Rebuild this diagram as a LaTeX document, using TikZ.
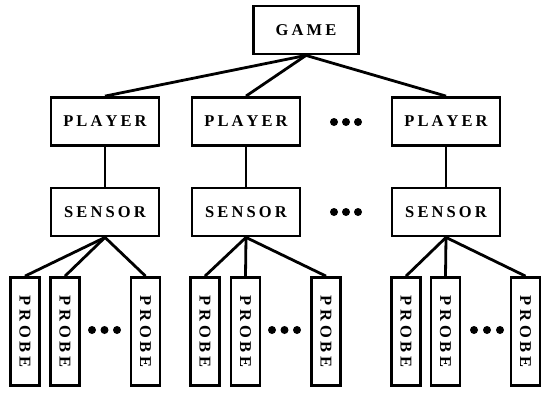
\documentclass[tikz,border=0pt]{standalone}
\usepackage{fontspec}
\usepackage{graphicx}
\newfontfamily\lblfont{Liberation Serif}
\newcommand\ls{\kern3.1pt}
\begin{document}
\begin{tikzpicture}[x=1pt,y=-1pt,
 box/.style={draw,line width=2.8pt,inner sep=0pt,font=\lblfont\bfseries\fontsize{16.5}{16.5}\selectfont},
 wide/.style={box,minimum width=108pt,minimum height=48pt},
 probebox/.style={box,minimum width=29pt,minimum height=108pt},
 link/.style={line width=2.8pt},
 dot/.style={fill,circle,inner sep=0pt,minimum size=8pt}]
\useasboundingbox (0,0) rectangle (541,392);
\node[wide,minimum width=105pt] (game) at (306,30) {G\ls A\ls M\ls E};
\node[wide] (pl1) at (105,121.5) {P\ls L\ls A\ls Y\ls E\ls R};
\node[wide] (pl2) at (246,121.5) {P\ls L\ls A\ls Y\ls E\ls R};
\node[wide] (pl3) at (446,121.5) {P\ls L\ls A\ls Y\ls E\ls R};
\node[wide] (se1) at (105,212) {S\ls E\ls N\ls S\ls O\ls R};
\node[wide] (se2) at (246,212) {S\ls E\ls N\ls S\ls O\ls R};
\node[wide] (se3) at (446,212) {S\ls E\ls N\ls S\ls O\ls R};
\foreach \n/\x in {p11/25,p12/65,p13/145.5,p21/205,p22/245.5,p23/326,p31/406,p32/445.5,p33/525.5}
  \node[probebox] (\n) at (\x,331.5) {\rotatebox{-90}{P\kern4pt R\kern4pt O\kern4pt B\kern4pt E}};
\foreach \p in {pl1,pl2,pl3} \draw[link] (game.south) -- (\p.north);
\foreach \i in {1,2,3} {
  \draw[link] (pl\i.south) -- (se\i.north);
  \foreach \j in {1,2,3} \draw[link] (se\i.south) -- (p\i\j.north);
}
\foreach \y/\r in {122/a,212/b}
  \foreach \x/\k in {334/1,346/2,358/3}
    \node[dot] (d\r\k) at (\x,\y) {};
\foreach \x/\k in {92/1,104.5/2,117/3,272/4,284.5/5,297/6,474/7,487/8,500/9}
  \node[dot] (dp\k) at (\x,330) {};
\end{tikzpicture}
\end{document}
